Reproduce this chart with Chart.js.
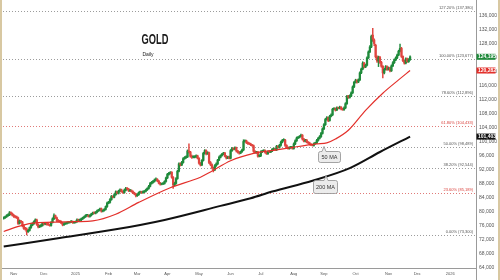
<!DOCTYPE html>
<html>
<head>
<meta charset="utf-8">
<title>Gold Daily</title>
<script src="https://cdn.jsdelivr.net/npm/chart.js@4.4.1/dist/chart.umd.min.js"></script>
<style>
  html, body { margin: 0; padding: 0; background: #fff; }
  #wrap { position: relative; width: 500px; height: 280px; }
</style>
</head>
<body>
<div id="wrap"><canvas id="goldChart" width="500" height="280"></canvas></div>
<script>
// Gold daily candles, one per trading day from 23 Oct 2024 to 24 Nov 2025 (prices in thousands)
const openK = [
  78.0, 78.2, 78.5, 78.8, 79.0, 79.6, 79.4, 78.9, 78.6, 78.4,
  78.2, 76.6, 77.3, 77.0, 75.9, 75.1, 75.0, 74.2, 74.6, 75.4,
  76.1, 76.5, 77.1, 77.6, 76.3, 75.6, 75.8, 76.0, 76.7, 76.4,
  76.5, 76.3, 76.2, 76.0, 76.9, 77.9, 78.8, 78.2, 77.4, 77.2,
  77.1, 76.7, 76.2, 76.5, 76.6, 76.8, 76.9, 77.0, 77.2, 76.8,
  76.9, 77.1, 77.6, 77.5, 77.6, 77.9, 78.2, 78.5, 78.9, 78.9,
  78.6, 78.9, 79.3, 79.6, 79.5, 79.8, 80.2, 80.4, 80.8, 80.1,
  80.3, 80.6, 81.4, 82.4, 82.6, 83.4, 84.3, 84.1, 84.8, 85.6,
  85.2, 85.8, 86.2, 85.7, 85.4, 86.1, 86.6, 86.4, 85.9, 86.0,
  85.7, 85.3, 85.0, 84.5, 84.8, 85.4, 85.6, 85.4, 85.6, 85.8,
  86.2, 86.6, 87.2, 88.0, 88.3, 88.6, 89.0, 89.2, 88.7, 88.1,
  87.8, 87.9, 88.0, 88.6, 89.6, 90.6, 90.9, 91.2, 89.8, 87.6,
  88.0, 89.4, 91.5, 93.6, 93.3, 94.0, 95.1, 95.4, 95.6, 97.3,
  97.0, 95.8, 95.5, 95.6, 95.6, 95.9, 95.2, 93.8, 93.3, 94.6,
  96.6, 97.4, 96.5, 96.8, 94.0, 93.4, 92.5, 91.9, 93.1, 93.6,
  94.7, 95.5, 96.0, 96.4, 96.7, 95.8, 95.3, 95.6, 95.2, 97.4,
  98.0, 97.8, 98.2, 97.3, 96.9, 96.7, 97.1, 97.6, 100.0, 100.2,
  99.7, 99.4, 99.3, 99.0, 98.8, 97.2, 96.8, 97.0, 95.8, 95.9,
  97.0, 97.3, 97.4, 96.9, 96.5, 97.1, 97.0, 97.3, 97.8, 97.9,
  97.6, 98.6, 98.3, 98.9, 99.8, 100.3, 100.4, 98.9, 98.3, 98.0,
  98.3, 98.4, 98.0, 99.3, 100.2, 101.0, 101.2, 101.5, 101.8, 100.7,
  100.1, 100.4, 99.8, 99.6, 99.2, 99.0, 98.9, 99.4, 99.6, 100.3,
  100.9, 101.4, 102.3, 103.6, 104.8, 106.3, 106.8, 106.0, 107.2, 107.6,
  109.2, 109.4, 109.0, 109.6, 109.5, 109.8, 109.3, 109.1, 109.6, 110.8,
  112.9, 112.6, 113.0, 113.9, 115.6, 116.9, 117.4, 117.0, 117.6, 119.6,
  120.7, 122.4, 121.3, 121.8, 123.9, 125.6, 127.0, 130.4, 129.0, 127.5,
  124.2, 123.0, 124.0, 122.6, 121.5, 119.6, 120.6, 121.4, 120.6, 121.0,
  120.2, 121.6, 122.5, 123.3, 123.9, 124.7, 125.8, 126.6, 124.3, 123.1,
  122.4, 123.6, 122.8, 123.4
];
const highK = [
  78.5, 78.7, 79.1, 79.3, 80.0, 79.9, 79.6, 79.2, 78.8, 78.7,
  78.4, 77.6, 77.5, 77.2, 76.2, 75.5, 75.3, 74.9, 75.6, 76.4,
  76.8, 77.3, 77.9, 77.8, 76.5, 76.1, 76.3, 76.9, 76.9, 76.8,
  76.7, 76.6, 76.4, 77.1, 78.2, 79.3, 79.0, 78.4, 77.7, 77.5,
  77.3, 76.9, 76.8, 76.8, 77.0, 77.1, 77.2, 77.4, 77.3, 77.1,
  77.3, 77.9, 77.8, 77.8, 78.1, 78.4, 78.7, 79.1, 79.2, 79.1,
  79.1, 79.5, 79.8, 79.9, 80.0, 80.4, 80.6, 81.0, 81.0, 80.5,
  80.8, 81.6, 82.7, 82.9, 83.7, 84.6, 84.5, 85.1, 85.9, 85.8,
  86.1, 86.5, 86.4, 85.9, 86.4, 86.9, 86.8, 86.6, 86.3, 86.2,
  85.9, 85.5, 85.2, 85.1, 85.6, 85.8, 85.8, 85.9, 86.0, 86.4,
  86.8, 87.5, 88.3, 88.6, 88.9, 89.3, 89.6, 89.4, 88.9, 88.3,
  88.1, 88.2, 88.8, 89.8, 90.9, 91.2, 91.4, 91.4, 90.0, 88.4,
  89.7, 91.8, 93.9, 93.9, 94.3, 95.4, 95.7, 95.9, 97.6, 99.3,
  97.2, 96.1, 95.9, 95.9, 96.2, 96.1, 95.4, 94.0, 94.8, 96.9,
  97.7, 97.6, 97.1, 97.0, 94.3, 93.6, 92.7, 93.4, 93.9, 94.9,
  95.8, 96.2, 96.6, 96.9, 96.9, 96.0, 95.8, 95.8, 97.7, 98.3,
  98.2, 98.5, 98.4, 97.5, 97.1, 97.3, 97.8, 100.5, 100.5, 100.4,
  99.9, 99.6, 99.5, 99.2, 99.0, 97.4, 97.2, 97.2, 96.2, 97.3,
  97.5, 97.6, 97.6, 97.1, 97.3, 97.3, 97.5, 98.0, 98.1, 98.1,
  98.9, 98.8, 99.2, 100.1, 100.6, 100.8, 100.6, 99.1, 98.5, 98.5,
  98.6, 98.6, 99.6, 100.5, 101.3, 101.4, 101.7, 102.1, 102.0, 100.9,
  100.6, 100.6, 100.0, 99.8, 99.4, 99.2, 99.6, 99.8, 100.6, 101.2,
  101.7, 102.6, 103.9, 105.1, 106.6, 107.1, 107.0, 107.5, 107.9, 109.5,
  109.7, 109.6, 109.9, 109.8, 110.1, 110.0, 109.5, 109.9, 111.1, 113.2,
  113.2, 113.3, 114.2, 115.9, 117.2, 117.8, 117.7, 117.9, 119.9, 121.0,
  122.8, 122.6, 122.1, 124.2, 125.9, 127.4, 130.4, 132.3, 129.3, 127.8,
  124.5, 124.4, 124.3, 122.9, 121.7, 120.9, 121.7, 121.6, 121.3, 121.2,
  121.9, 122.8, 123.6, 124.2, 125.0, 126.1, 127.8, 126.9, 124.5, 123.3,
  123.9, 123.8, 123.7, 124.5
];
const lowK = [
  77.8, 78.0, 78.3, 78.6, 78.8, 79.1, 78.7, 78.3, 78.2, 78.0,
  76.3, 76.4, 76.8, 75.6, 74.9, 74.7, 73.3, 74.0, 74.4, 75.2,
  75.9, 76.3, 76.9, 76.0, 75.3, 75.4, 75.6, 75.8, 76.2, 76.2,
  76.1, 76.0, 75.8, 75.8, 76.7, 77.7, 78.0, 77.1, 77.0, 76.9,
  76.5, 75.9, 76.0, 76.3, 76.4, 76.6, 76.7, 76.8, 76.6, 76.6,
  76.7, 76.9, 77.3, 77.3, 77.4, 77.7, 78.0, 78.3, 78.6, 78.4,
  78.4, 78.7, 79.1, 79.3, 79.3, 79.6, 80.0, 80.2, 79.8, 79.9,
  80.1, 80.4, 81.2, 82.2, 82.4, 83.2, 83.9, 83.9, 84.6, 85.0,
  85.0, 85.6, 85.5, 85.2, 85.2, 85.9, 86.2, 85.7, 85.7, 85.5,
  85.1, 84.8, 84.2, 84.3, 84.6, 85.2, 85.2, 85.2, 85.4, 85.6,
  86.0, 86.4, 87.0, 87.8, 88.1, 88.4, 88.8, 88.5, 87.9, 87.5,
  87.6, 87.7, 87.8, 88.4, 89.4, 90.4, 90.7, 89.5, 86.6, 87.3,
  87.8, 89.2, 91.3, 93.0, 93.1, 93.8, 94.9, 95.2, 95.4, 96.7,
  95.5, 95.2, 95.3, 95.3, 95.4, 95.0, 93.5, 93.0, 93.1, 94.4,
  96.4, 96.2, 96.3, 93.7, 93.1, 92.2, 91.3, 91.7, 92.9, 93.4,
  94.5, 95.3, 95.8, 96.2, 95.6, 95.0, 95.1, 95.0, 95.0, 97.2,
  97.6, 97.6, 97.0, 96.7, 96.4, 96.5, 96.9, 97.4, 99.8, 99.4,
  99.2, 99.1, 98.8, 98.6, 96.9, 96.6, 96.6, 95.5, 95.6, 95.7,
  96.8, 97.1, 96.7, 96.3, 96.3, 96.8, 96.8, 97.1, 97.6, 97.4,
  97.4, 98.1, 98.1, 98.7, 99.6, 100.1, 98.6, 98.0, 97.8, 97.8,
  98.1, 97.8, 97.8, 99.1, 100.0, 100.8, 101.0, 101.3, 100.4, 99.9,
  99.9, 99.6, 99.4, 99.0, 98.8, 98.7, 98.7, 99.2, 99.4, 100.1,
  100.7, 101.2, 102.1, 103.4, 104.6, 106.1, 105.7, 105.8, 107.0, 107.4,
  109.0, 108.7, 108.8, 109.3, 109.3, 109.0, 108.9, 108.9, 109.4, 110.6,
  112.3, 112.4, 112.8, 113.7, 115.4, 116.7, 116.7, 116.8, 117.4, 119.4,
  120.5, 121.0, 121.1, 121.6, 123.7, 125.4, 126.8, 128.6, 127.4, 123.8,
  122.6, 121.4, 122.3, 121.2, 118.2, 119.3, 120.4, 120.3, 120.4, 119.9,
  120.0, 121.4, 122.3, 123.1, 123.7, 124.5, 125.6, 124.0, 122.8, 122.1,
  122.2, 122.6, 122.6, 123.2
];
const closeK = [
  78.2, 78.5, 78.8, 79.0, 79.6, 79.4, 78.9, 78.6, 78.4, 78.2,
  76.6, 77.3, 77.0, 75.9, 75.1, 75.0, 74.2, 74.6, 75.4, 76.1,
  76.5, 77.1, 77.6, 76.3, 75.6, 75.8, 76.0, 76.7, 76.4, 76.5,
  76.3, 76.2, 76.0, 76.9, 77.9, 78.8, 78.2, 77.4, 77.2, 77.1,
  76.7, 76.2, 76.5, 76.6, 76.8, 76.9, 77.0, 77.2, 76.8, 76.9,
  77.1, 77.6, 77.5, 77.6, 77.9, 78.2, 78.5, 78.9, 78.9, 78.6,
  78.9, 79.3, 79.6, 79.5, 79.8, 80.2, 80.4, 80.8, 80.1, 80.3,
  80.6, 81.4, 82.4, 82.6, 83.4, 84.3, 84.1, 84.8, 85.6, 85.2,
  85.8, 86.2, 85.7, 85.4, 86.1, 86.6, 86.4, 85.9, 86.0, 85.7,
  85.3, 85.0, 84.5, 84.8, 85.4, 85.6, 85.4, 85.6, 85.8, 86.2,
  86.6, 87.2, 88.0, 88.3, 88.6, 89.0, 89.2, 88.7, 88.1, 87.8,
  87.9, 88.0, 88.6, 89.6, 90.6, 90.9, 91.2, 89.8, 87.6, 88.0,
  89.4, 91.5, 93.6, 93.3, 94.0, 95.1, 95.4, 95.6, 97.3, 97.0,
  95.8, 95.5, 95.6, 95.6, 95.9, 95.2, 93.8, 93.3, 94.6, 96.6,
  97.4, 96.5, 96.8, 94.0, 93.4, 92.5, 91.9, 93.1, 93.6, 94.7,
  95.5, 96.0, 96.4, 96.7, 95.8, 95.3, 95.6, 95.2, 97.4, 98.0,
  97.8, 98.2, 97.3, 96.9, 96.7, 97.1, 97.6, 100.0, 100.2, 99.7,
  99.4, 99.3, 99.0, 98.8, 97.2, 96.8, 97.0, 95.8, 95.9, 97.0,
  97.3, 97.4, 96.9, 96.5, 97.1, 97.0, 97.3, 97.8, 97.9, 97.6,
  98.6, 98.3, 98.9, 99.8, 100.3, 100.4, 98.9, 98.3, 98.0, 98.3,
  98.4, 98.0, 99.3, 100.2, 101.0, 101.2, 101.5, 101.8, 100.7, 100.1,
  100.4, 99.8, 99.6, 99.2, 99.0, 98.9, 99.4, 99.6, 100.3, 100.9,
  101.4, 102.3, 103.6, 104.8, 106.3, 106.8, 106.0, 107.2, 107.6, 109.2,
  109.4, 109.0, 109.6, 109.5, 109.8, 109.3, 109.1, 109.6, 110.8, 112.9,
  112.6, 113.0, 113.9, 115.6, 116.9, 117.4, 117.0, 117.6, 119.6, 120.7,
  122.4, 121.3, 121.8, 123.9, 125.6, 127.0, 130.0, 129.2, 128.0, 124.2,
  123.0, 124.0, 122.6, 121.5, 119.6, 120.6, 121.4, 120.6, 121.0, 120.2,
  121.6, 122.5, 123.3, 123.9, 124.7, 125.8, 126.6, 124.3, 123.1, 122.4,
  123.6, 122.8, 123.4, 124.195
];

// moving averages (trading-day index, value in thousands)
const ma50Idx = [0, 11, 20, 51, 62, 78, 94, 116, 137, 144, 158, 174, 190, 204, 218, 225, 231, 240, 252, 264, 275, 283];
const ma50K = [74.3, 75.8, 76.7, 77.1, 77.3, 79.2, 82.6, 86.8, 89.8, 91.3, 94.5, 96.6, 97.6, 98.5, 99.3, 99.6, 100.7, 103.2, 108.9, 113.8, 117.6, 120.282];
const ma200Idx = [0, 39, 78, 112, 151, 172, 187, 215, 241, 262, 283];
const ma200K = [70.0, 72.4, 74.9, 77.6, 81.6, 83.8, 85.7, 88.8, 92.4, 97.0, 101.403];

// x axis: trading-day index of the first session of each month
const monthTicks = [7, 28, 50, 73, 93, 114, 136, 158, 179, 202, 223, 245, 268, 288, 311];
const monthLabels = ['Nov', 'Dec', '2025', 'Feb', 'Mar', 'Apr', 'May', 'Jun', 'Jul', 'Aug', 'Sep', 'Oct', 'Nov', 'Dec', '2026'];
const priceTicks = [64000, 68000, 72000, 76000, 80000, 84000, 88000, 92000, 96000, 100000,
  104000, 108000, 112000, 116000, 120000, 124000, 128000, 132000, 136000];

// Fibonacci retracement levels
const fibPct = ['127.20%', '100.00%', '78.60%', '61.80%', '50.00%', '38.20%', '23.60%', '0.00%'];
const fibLevels = [137380, 123677, 112896, 104433, 98489, 92544, 85189, 73300];

const GREEN = '#1f8a3b';
const RED = '#e0453f';
const FONT = '"Liberation Sans", Arial, sans-serif';
const k = v => Math.round(v * 1000);
const fmt = v => Math.round(v).toLocaleString('en-US');

const candles = closeK.map((c, i) => ({ x: i, o: k(openK[i]), h: k(highK[i]), l: k(lowK[i]), c: k(c) }));
const candleColors = candles.map(d => d.c >= d.o ? GREEN : RED);

const overlay = {
  id: 'overlay',
  beforeDatasetsDraw(chart) {
    const { ctx, chartArea: a, scales: { y } } = chart;
    ctx.save();
    ctx.lineWidth = 1;
    ctx.setLineDash([1, 2]);
    ctx.font = '4px ' + FONT;
    ctx.textAlign = 'right';
    ctx.textBaseline = 'bottom';
    fibLevels.forEach((lvl, i) => {
      const red = fibPct[i] === '61.80%' || fibPct[i] === '23.60%';
      const py = Math.round(y.getPixelForValue(lvl)) + 0.5;
      ctx.strokeStyle = red ? '#e07a78' : '#9c9c9c';
      ctx.beginPath();
      ctx.moveTo(a.left, py);
      ctx.lineTo(a.right, py);
      ctx.stroke();
      ctx.fillStyle = red ? '#d9413c' : '#555';
      ctx.fillText(fibPct[i] + ' (' + fmt(lvl) + ')', a.right - 3, py - 2);
    });
    ctx.restore();
  },
  afterDraw(chart) {
    const { ctx, chartArea: a, scales: { y } } = chart;
    ctx.save();

    // axis frame
    ctx.strokeStyle = '#9a9a9a';
    ctx.lineWidth = 1;
    ctx.beginPath();
    ctx.moveTo(0, a.bottom + 0.5);
    ctx.lineTo(a.right, a.bottom + 0.5);
    ctx.moveTo(a.right + 0.5, 0);
    ctx.lineTo(a.right + 0.5, 280);
    ctx.stroke();

    // title
    ctx.fillStyle = '#1a1a1a';
    ctx.textAlign = 'left';
    ctx.textBaseline = 'alphabetic';
    ctx.save();
    ctx.translate(141.5, 44);
    ctx.scale(0.62, 1);
    ctx.font = 'bold 15px ' + FONT;
    ctx.fillText('GOLD', 0, 0);
    ctx.restore();
    ctx.font = '5px ' + FONT;
    ctx.fillText('Daily', 142.5, 55.5);

    // moving average callouts
    const callout = (bx, by, w, h, tx, text) => {
      ctx.beginPath();
      ctx.moveTo(bx + 2, by);
      ctx.lineTo(tx - 2, by);
      ctx.lineTo(tx, by - 5);
      ctx.lineTo(tx + 2, by);
      ctx.lineTo(bx + w - 2, by);
      ctx.quadraticCurveTo(bx + w, by, bx + w, by + 2);
      ctx.lineTo(bx + w, by + h - 2);
      ctx.quadraticCurveTo(bx + w, by + h, bx + w - 2, by + h);
      ctx.lineTo(bx + 2, by + h);
      ctx.quadraticCurveTo(bx, by + h, bx, by + h - 2);
      ctx.lineTo(bx, by + 2);
      ctx.quadraticCurveTo(bx, by, bx + 2, by);
      ctx.closePath();
      ctx.fillStyle = '#ececec';
      ctx.fill();
      ctx.strokeStyle = '#8f8f8f';
      ctx.lineWidth = 0.8;
      ctx.stroke();
      ctx.fillStyle = '#333';
      ctx.font = '5.5px ' + FONT;
      ctx.textAlign = 'center';
      ctx.textBaseline = 'middle';
      ctx.fillText(text, bx + w / 2, by + h / 2 + 0.5);
    };
    callout(318.5, 151.5, 22, 11, 324, '50 MA');
    callout(313.5, 180.5, 24, 13, 326, '200 MA');

    // last-value tags on the price axis
    const tags = [
      { v: k(closeK[closeK.length - 1]), c: GREEN },
      { v: k(ma50K[ma50K.length - 1]), c: '#e3302b' },
      { v: k(ma200K[ma200K.length - 1]), c: '#111' }
    ];
    ctx.font = 'bold 5px ' + FONT;
    ctx.textAlign = 'left';
    ctx.textBaseline = 'middle';
    tags.forEach(t => {
      const py = y.getPixelForValue(t.v);
      ctx.fillStyle = t.c;
      ctx.fillRect(a.right + 0.5, py - 3, 19, 6);
      ctx.fillStyle = '#fff';
      ctx.fillText(fmt(t.v), a.right + 2, py + 0.3);
    });

    // side frame
    ctx.fillStyle = '#d8c8a2';
    ctx.fillRect(0, 0, 2, 280);
    ctx.fillRect(498, 0, 2, 280);
    ctx.restore();
  }
};

new Chart(document.getElementById('goldChart'), {
  type: 'bar',
  data: {
    datasets: [
      {
        type: 'line',
        data: ma50Idx.map((x, i) => ({ x: x, y: k(ma50K[i]) })),
        borderColor: '#e3302b',
        borderWidth: 1.2,
        pointRadius: 0,
        cubicInterpolationMode: 'monotone',
        order: 0
      },
      {
        type: 'line',
        data: ma200Idx.map((x, i) => ({ x: x, y: k(ma200K[i]) })),
        borderColor: '#111',
        borderWidth: 2,
        pointRadius: 0,
        cubicInterpolationMode: 'monotone',
        order: 0
      },
      {
        data: candles.map(d => ({ x: d.x, y: [Math.min(d.o, d.c), Math.max(d.o, d.c)] })),
        backgroundColor: candleColors,
        barThickness: 1.6,
        minBarLength: 1,
        grouped: false,
        order: 1
      },
      {
        data: candles.map(d => ({ x: d.x, y: [d.l, d.h] })),
        backgroundColor: candleColors,
        barThickness: 0.8,
        grouped: false,
        order: 2
      }
    ]
  },
  options: {
    responsive: false,
    animation: false,
    devicePixelRatio: 1,
    layout: { padding: { left: 3, top: 0, right: 0, bottom: 0 } },
    plugins: { legend: { display: false }, tooltip: { enabled: false } },
    scales: {
      x: {
        type: 'linear',
        min: -0.5,
        max: 328.9,
        offset: false,
        grid: { display: false, drawTicks: false },
        border: { display: false },
        afterBuildTicks: axis => { axis.ticks = monthTicks.map(v => ({ value: v })); },
        afterFit: axis => { axis.height = 12; axis.paddingLeft = 0; axis.paddingRight = 0; },
        ticks: {
          autoSkip: false,
          maxRotation: 0,
          padding: 3,
          color: '#555',
          font: { size: 4, family: FONT },
          callback: (v, i) => monthLabels[i]
        }
      },
      y: {
        position: 'right',
        min: 63857,
        max: 140429,
        grid: { display: false, drawTicks: false },
        border: { display: false },
        afterBuildTicks: axis => { axis.ticks = priceTicks.map(v => ({ value: v })); },
        afterFit: axis => { axis.width = 24; axis.paddingTop = 0; axis.paddingBottom = 0; },
        ticks: {
          padding: 3,
          color: '#555',
          font: { size: 5, family: FONT },
          callback: v => fmt(v)
        }
      }
    }
  },
  plugins: [overlay]
});
</script>
</body>
</html>
